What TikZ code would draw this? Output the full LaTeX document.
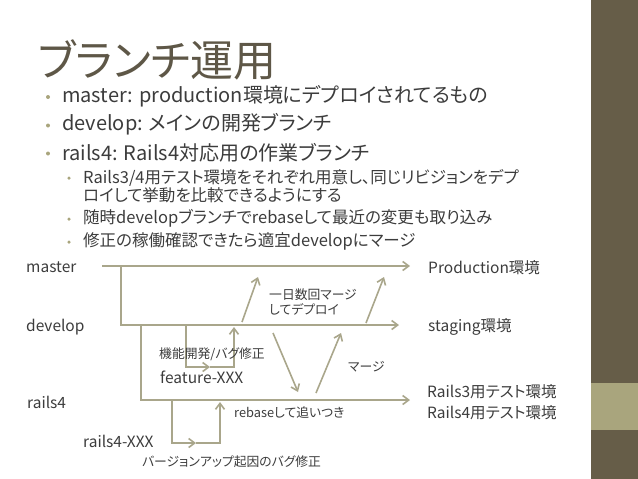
\documentclass[tikz,border=0pt]{standalone}
\usepackage{fontspec}
\setmainfont{Noto Sans CJK JP}[RawFeature=+palt]
\usetikzlibrary{arrows.meta, positioning}
\definecolor{barra}{HTML}{665D48}
\definecolor{banda}{HTML}{A9A57D}
\definecolor{colrama}{HTML}{A9A68B}
\definecolor{coltitulo}{HTML}{5E5747}
\definecolor{texto}{HTML}{3C3C3C}
\tikzstyle{titulo} = [text=coltitulo, font=\fontsize{43}{46}\selectfont, inner sep=0pt, anchor=west]
\tikzstyle{item} = [text=texto, font=\fontsize{20}{22}\selectfont, inner sep=0pt, anchor=west]
\tikzstyle{subitem} = [text=texto, font=\fontsize{16.5}{18}\selectfont, inner sep=0pt, anchor=west, align=left]
\tikzstyle{punto} = [circle, fill=banda, inner sep=0pt, minimum size=4pt]
\tikzstyle{rotulo} = [text=texto, font=\fontsize{15.5}{18}\selectfont, inner sep=0pt, anchor=west]
\tikzstyle{nota} = [text=texto, font=\fontsize{12.8}{15}\selectfont, inner sep=0pt, anchor=west, align=left]
\tikzstyle{rama} = [draw=colrama, line width=1.6pt]
\tikzstyle{flecha} = [rama, -{Straight Barb[length=6pt,width=9pt]}]

\begin{document}
\begin{tikzpicture}[x=1pt, y=-1pt]
	\useasboundingbox (0,0) rectangle (638,479);
	\fill[barra] (591,0) rectangle (638,479);
	\fill[banda] (591,383) rectangle (638,430);

	\node[titulo] (tit) at (38,60) {ブランチ運用};
	\node[item] (b1) at (62,96) {master: production環境にデプロイされてるもの};
	\node[item] (b2) at (62,124.5) {develop: メインの開発ブランチ};
	\node[item] (b3) at (62,152.5) {rails4: Rails4対応用の作業ブランチ};
	\foreach \y in {97,125.5,153.5} \node[punto] (p\y) at (48,\y) {};
	\node[subitem] (s1) at (83,186) {Rails3/4用テスト環境をそれぞれ用意し、同じリビジョンをデプ\\ロイして挙動を比較できるようにする};
	\node[subitem] (s2) at (83,218) {随時developブランチでrebaseして最近の変更も取り込み};
	\node[subitem] (s3) at (83,241) {修正の稼働確認できたら適宜developにマージ};
	\foreach \y in {178,219,242} \node[punto, minimum size=3.5pt] (q\y) at (69,\y) {};

	\coordinate (m0) at (102,266);
	\coordinate (m1) at (410,266);
	\coordinate (d0) at (121,266);
	\coordinate (d1) at (399,325);
	\coordinate (r0) at (141,325);
	\coordinate (r1) at (410,400);
	\coordinate (f0) at (186,325);
	\coordinate (fm) at (210,367);
	\coordinate (f1) at (234,327);
	\coordinate (x0) at (172,400);
	\coordinate (xm) at (196,443);
	\coordinate (x1) at (220,402);
	\draw[flecha] (m0) -- (m1);
	\draw[flecha] (d0) |- (d1);
	\draw[flecha] (r0) |- (r1);
	\draw[flecha] (f0) |- (fm);
	\draw[flecha] (fm) -| (f1);
	\draw[flecha] (x0) |- (xm);
	\draw[flecha] (xm) -| (x1);

	\coordinate (a0) at (242,322);
	\coordinate (a1) at (258,277);
	\coordinate (c0) at (273,333);
	\coordinate (c1) at (298,392);
	\coordinate (e0) at (316,393);
	\coordinate (e1) at (341,333);
	\coordinate (g0) at (366,323);
	\coordinate (g1) at (384,277);
	\draw[flecha] (a0) -- (a1);
	\draw[flecha] (c0) -- (c1);
	\draw[flecha] (e0) -- (e1);
	\draw[flecha] (g0) -- (g1);

	\node[rotulo] (master) at (26,267) {master};
	\node[rotulo] (develop) at (26,327) {develop};
	\node[rotulo] (rails4) at (27,402) {rails4};
	\node[rotulo] (prod) at (428,268) {Production環境};
	\node[rotulo] (stag) at (428,327) {staging環境};
	\node[rotulo] (test3) at (427,392) {Rails3用テスト環境};
	\node[rotulo] (test4) at (427,413) {Rails4用テスト環境};
	\node[rotulo] (feature) at (160,377) {feature-XXX};
	\node[rotulo] (rxxx) at (83,441) {rails4-XXX};
	\node[nota] (deploy) at (269,301.5) {一日数回マージ\\してデプロイ};
	\node[nota] (kaihatsu) at (159,354) {機能開発/バグ修正};
	\node[nota] (merge) at (348,367) {マージ};
	\node[nota] (rebase) at (234,413) {rebaseして追いつき};
	\node[nota] (bugfix) at (142,462) {バージョンアップ起因のバグ修正};
\end{tikzpicture}
\end{document}
